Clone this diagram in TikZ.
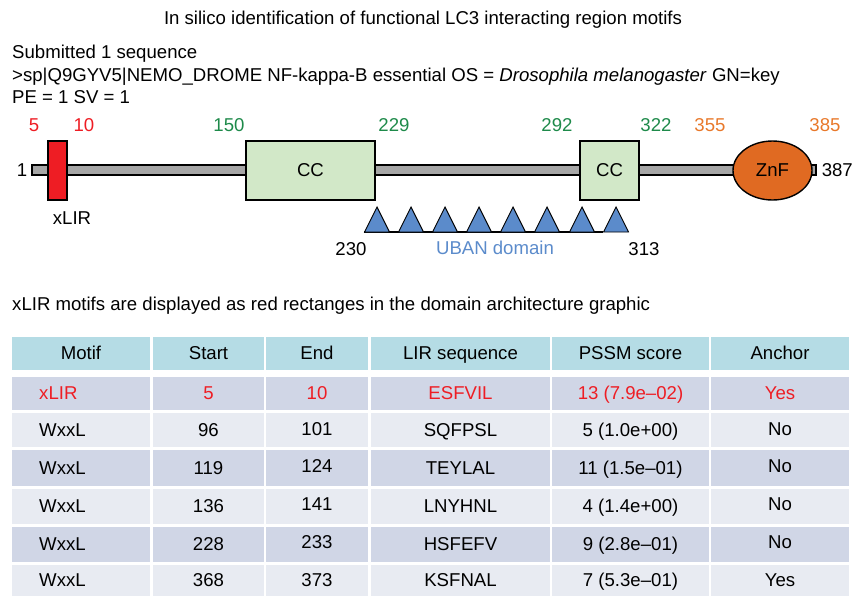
\documentclass[tikz,border=0pt]{standalone}
\usepackage{fontspec}
\setmainfont{Liberation Sans}
\usetikzlibrary{shapes.geometric}
\definecolor{lirred}{HTML}{EE1D24}
\definecolor{ccgreen}{HTML}{1E8A4A}
\definecolor{znorange}{HTML}{E8782A}
\definecolor{znfill}{HTML}{E06A22}
\definecolor{ccfill}{HTML}{D2E8C8}
\definecolor{barfill}{HTML}{A6A6A6}
\definecolor{ubanblue}{HTML}{5B8BCB}
\definecolor{headfill}{HTML}{B5DCE5}
\definecolor{rowdark}{HTML}{D0D6E6}
\definecolor{rowlight}{HTML}{E8EBF2}
\newcommand{\labfont}{\fontsize{18.6}{22}\selectfont}
\tikzset{
  % box centred on the capital letters of the label
  txt/.style={font=\labfont, inner sep=0pt, text height=17.2pt, text depth=3.9pt},
  ccbox/.style={draw=black, line width=1.4pt, fill=ccfill, minimum height=59pt, inner sep=0pt, font=\labfont},
  uban/.style={fill=ubanblue, draw=black, line width=0.9pt, line join=miter},
}
\begin{document}
\begin{tikzpicture}[x=1pt,y=-1pt]
\useasboundingbox (0,0) rectangle (852,595);

% heading lines
\node[txt] (title) at (423,18) {In silico identification of functional LC3 interacting region motifs};
\node[txt, anchor=west] (sub) at (12,52) {Submitted 1 sequence};
\node[txt, anchor=west] (seqid) at (12,75) {>sp|Q9GYV5|NEMO\_DROME NF-kappa-B essential OS = \textit{Drosophila melanogaster} GN=key};
\node[txt, anchor=west] (pe) at (12,97) {PE = 1 SV = 1};

% position labels
\node[txt, text=lirred] (p5) at (34,125) {5};
\node[txt, text=lirred] (p10) at (84,125) {10};
\node[txt, text=ccgreen] (p150) at (229,125) {150};
\node[txt, text=ccgreen] (p229) at (394,125) {229};
\node[txt, text=ccgreen] (p292) at (557,125) {292};
\node[txt, text=ccgreen] (p322) at (656,125) {322};
\node[txt, text=znorange] (p355) at (710,125) {355};
\node[txt, text=znorange] (p385) at (825,125) {385};

% protein backbone
\node[draw=black, line width=1.2pt, fill=barfill, minimum width=784pt, minimum height=10pt, inner sep=0pt] (bar) at (424,170) {};
\node[txt, anchor=east] (n1) at ([xshift=-4pt]bar.west) {1};
\node[txt, anchor=west] (n387) at ([xshift=5pt]bar.east) {387};

% domains
\node[draw=black, line width=1.4pt, fill=lirred, minimum width=19pt, minimum height=59pt, inner sep=0pt] (xlir) at (57.5,170.5) {};
\node[txt] (xlirlab) at (72,218) {xLIR};
\node[ccbox, minimum width=129pt] (cc1) at (310.5,170.5) {CC};
\node[ccbox, minimum width=59pt] (cc2) at (609.5,170.5) {CC};
\node[ellipse, draw=black, line width=1.4pt, fill=znfill, minimum width=79pt, minimum height=59pt, inner sep=0pt, font=\labfont] (znf) at (772.5,170.5) {ZnF};

% UBAN repeats
\coordinate (ubanL) at (364,232);
\coordinate (ubanR) at (603,232);
\draw[line width=2.6pt] (ubanL) -- (ubanR);
\foreach \cx in {377,411,445,479,513,547,582,616}{
  \draw[uban] (\cx-12.5,232) -- (\cx,207) -- (\cx+12.5,232) -- cycle;
}
\node[txt] (u230) at (351,249) {230};
\node[txt, text=ubanblue] (ubanlab) at (495,248) {UBAN domain};
\node[txt] (u313) at (644,249) {313};

\node[txt, anchor=west] (note) at (12,304) {xLIR motifs are displayed as red rectanges in the domain architecture graphic};

% results table
\foreach \a/\b in {12/150,153/264,266/368,371/550,552/709,711/849}{
  \fill[headfill] (\a,337) rectangle (\b,370);
}
\node[txt] (h1) at (81,353) {Motif};
\node[txt] (h2) at (208.5,353) {Start};
\node[txt] (h3) at (317,353) {End};
\node[txt] (h4) at (460.5,353) {LIR sequence};
\node[txt] (h5) at (630.5,353) {PSSM score};
\node[txt] (h6) at (780,353) {Anchor};

\foreach \top/\bot/\fc in {377/410/rowdark,413/447/rowlight,450/486/rowdark,489/524/rowlight,527/562/rowdark,565/597/rowlight}{
  \foreach \a/\b in {12/150,153/264,266/368,371/550,552/709,711/849}{
    \fill[\fc] (\a,\top) rectangle (\b,\bot);
  }
}

% rows: index / text row / End-and-Anchor row / colour / cells
\foreach \r/\y/\yy/\tc/\m/\s/\e/\q/\p/\an in {
  1/393/393/lirred/xLIR/5/10/ESFVIL/13 (7.9e--02)/Yes,
  2/430/428.5/black/WxxL/96/101/SQFPSL/5 (1.0e+00)/No,
  3/468/466/black/WxxL/119/124/TEYLAL/11 (1.5e--01)/No,
  4/506/504/black/WxxL/136/141/LNYHNL/4 (1.4e+00)/No,
  5/544/542/black/WxxL/228/233/HSFEFV/9 (2.8e--01)/No,
  6/580/580/black/WxxL/368/373/KSFNAL/7 (5.3e--01)/Yes}{
  \node[txt, text=\tc, anchor=west] (m\r) at (39,\y) {\m};
  \node[txt, text=\tc] (s\r) at (208.5,\y) {\s};
  \node[txt, text=\tc] (e\r) at (317,\yy) {\e};
  \node[txt, text=\tc] (q\r) at (460.5,\y) {\q};
  \node[txt, text=\tc] (p\r) at (630.5,\y) {\p};
  \node[txt, text=\tc] (a\r) at (780,\yy) {\an};
}
\end{tikzpicture}
\end{document}
